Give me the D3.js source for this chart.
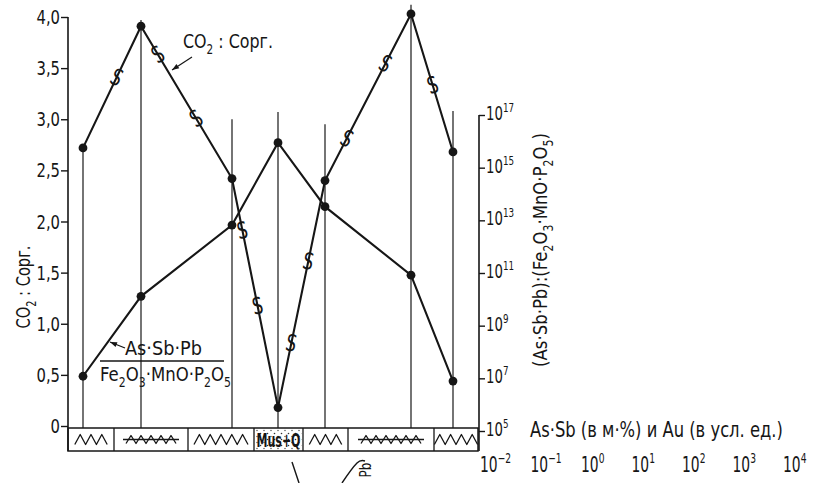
<!DOCTYPE html>
<html>
<head>
<meta charset="utf-8">
<script src="https://cdn.jsdelivr.net/npm/d3@7"></script>
<style>
  html, body { margin: 0; padding: 0; background: #fff; }
  svg text {
    font-family: "DejaVu Sans", "Liberation Sans", sans-serif;
    fill: #161616;
  }
</style>
</head>
<body>
<svg id="chart" width="813" height="483"></svg>
<script>
// Sample stations: distance along the section (arbitrary units)
const samplePos = [1.5, 7.3, 16.4, 21.0, 25.7, 34.3, 38.5];
// CO2 : C org ratio at each station
const co2Corg = [2.72, 3.91, 2.42, 0.18, 2.40, 4.03, 2.68];
// (As·Sb·Pb) : (Fe2O3·MnO·P2O5) at each station
const ratioAsSbPb = [1.2e7, 1.3e10, 6.6e12, 8.9e15, 3.3e13, 8.3e10, 7.9e6];
// Upper end of each station's sampling line, in CO2 : C org units
const stationTop = [2.72, 3.97, 3.0, 3.07, 2.95, 4.12, 3.08];

// Axis ticks
const leftTicks = [0, 0.5, 1.0, 1.5, 2.0, 2.5, 3.0, 3.5, 4.0];
const rightTickExp = [5, 7, 9, 11, 13, 15, 17];
const bottomTickExp = [-2, -1, 0, 1, 2, 3, 4];

// Lithology column: unit boundaries along the section and unit types
const lithoBounds = [0, 4.6, 12.0, 18.6, 23.5, 28.0, 36.6, 41.0];
const lithoUnits = [
  { kind: "schist", peaks: 3 },
  { kind: "banded", peaks: 5 },
  { kind: "schist", peaks: 5 },
  { kind: "musq", label: "Mus+Q" },
  { kind: "schist", peaks: 3 },
  { kind: "banded", peaks: 6 },
  { kind: "schist", peaks: 4 }
];

// "S" markers along the CO2 : C org curve: [segment index, fraction along segment]
const sMarks = [[0, 0.52], [1, 0.23], [1, 0.65], [2, 0.26], [2, 0.59],
                [3, 0.25], [3, 0.61], [4, 0.21], [4, 0.66], [5, 0.57]];

const ink = "#161616";
const svg = d3.select("#chart");

const x = d3.scaleLinear().domain([0, 41]).range([68, 478]);
const yL = d3.scaleLinear().domain([0, 4]).range([426, 17]);
const yR = d3.scaleLog().domain([1e5, 1e17]).range([431, 115]);
const xB = d3.scaleLog().domain([1e-2, 1e4]).range([480, 783]);

const stripTop = 428, stripBot = 451;

// Condensed label: text parts may be plain, "sub" or "sup".
// Either squeezed by a fixed factor k or fitted to a given width.
function label(parent, o) {
  const g = parent.append("g")
    .attr("transform", `translate(${o.x},${o.y}) rotate(${o.rot || 0})`);
  const inner = g.append("g");
  const t = inner.append("text").attr("font-size", o.size)
    .attr("text-anchor", o.anchor || "start");
  if (o.weight) t.attr("font-weight", o.weight);
  let shift = 0;
  o.parts.forEach(p => {
    const [txt, kind] = Array.isArray(p) ? p : [p];
    const small = kind === "sub" || kind === "sup";
    const target = kind === "sub" ? o.size * 0.28 : kind === "sup" ? -o.size * 0.42 : 0;
    const ts = t.append("tspan").attr("dy", target - shift).text(txt);
    if (small) ts.attr("font-size", o.size * 0.66);
    shift = target;
  });
  let k = o.k || 0.72;
  if (o.width) k = o.width / t.node().getBBox().width;
  inner.attr("transform", `scale(${k},1)`);
  return g;
}

// ---- sampling lines ----
svg.append("g").selectAll("line").data(samplePos).join("line")
  .attr("x1", d => x(d)).attr("x2", d => x(d))
  .attr("y1", (d, i) => yL(stationTop[i])).attr("y2", stripTop)
  .attr("stroke", "#2a2a2a").attr("stroke-width", 1.3);

// ---- left axis ----
const gL = svg.append("g").attr("transform", `translate(${x(0)},0)`)
  .call(d3.axisLeft(yL).tickValues(leftTicks).tickSize(7));
gL.select(".domain").remove();
gL.selectAll(".tick line").attr("stroke", ink).attr("stroke-width", 1.4);
gL.selectAll(".tick text").remove();
leftTicks.forEach(v => label(svg, {
  x: x(0) - 8, y: yL(v) + 7, size: 19, anchor: "end", k: 0.78,
  parts: [v === 0 ? "0" : v.toFixed(1).replace(".", ",")]
}));
svg.append("line").attr("x1", x(0)).attr("x2", x(0)).attr("y1", yL(4)).attr("y2", stripBot)
  .attr("stroke", ink).attr("stroke-width", 1.6);

// ---- right axis ----
const gR = svg.append("g").attr("transform", "translate(479,0)")
  .call(d3.axisRight(yR).tickValues(rightTickExp.map(e => Math.pow(10, e))).tickSize(6));
gR.select(".domain").remove();
gR.selectAll(".tick line").attr("stroke", ink).attr("stroke-width", 1.4);
gR.selectAll(".tick text").remove();
rightTickExp.forEach(e => label(svg, {
  x: 486, y: yR(Math.pow(10, e)) + 5, size: 19, k: 0.7,
  parts: ["10", [String(e), "sup"]]
}));
svg.append("line").attr("x1", 479).attr("x2", 479).attr("y1", yR(1e17)).attr("y2", stripBot)
  .attr("stroke", ink).attr("stroke-width", 1.6);

// ---- bottom logarithmic scale for As·Sb and Au ----
const gB = svg.append("g").attr("transform", "translate(0,458)")
  .call(d3.axisBottom(xB).tickValues(bottomTickExp.map(e => Math.pow(10, e))).tickSize(0));
gB.select(".domain").remove();
gB.selectAll(".tick text").remove();
bottomTickExp.forEach(e => label(svg, {
  x: xB(Math.pow(10, e)), y: 472, size: 21, k: 0.66,
  parts: ["10", [e < 0 ? "\u2212" + Math.abs(e) : String(e), "sup"]]
}));

label(svg, { x: 530, y: 437, size: 21, width: 253,
  parts: ["As·Sb (в м·%) и Au (в усл. ед.)"] });

// ---- lithology column ----
const strip = svg.append("g");
strip.append("rect").attr("x", x(0)).attr("y", stripTop)
  .attr("width", x(41) - x(0)).attr("height", stripBot - stripTop)
  .attr("fill", "none").attr("stroke", ink).attr("stroke-width", 1.5);
strip.selectAll("line.sep").data(lithoBounds.slice(1, -1)).join("line")
  .attr("class", "sep")
  .attr("x1", d => x(d)).attr("x2", d => x(d)).attr("y1", stripTop).attr("y2", stripBot)
  .attr("stroke", ink).attr("stroke-width", 1.3);

const defs = svg.append("defs");
const pat = defs.append("pattern").attr("id", "dots").attr("patternUnits", "userSpaceOnUse")
  .attr("width", 7).attr("height", 6);
pat.append("circle").attr("cx", 1.5).attr("cy", 1.5).attr("r", 0.8).attr("fill", "#333");
pat.append("circle").attr("cx", 5).attr("cy", 4.5).attr("r", 0.7).attr("fill", "#444");

const midY = (stripTop + stripBot) / 2;
lithoUnits.forEach((u, i) => {
  const x0 = x(lithoBounds[i]), x1 = x(lithoBounds[i + 1]);
  const cx = (x0 + x1) / 2;
  if (u.kind === "musq") {
    strip.append("rect").attr("x", x0 + 1).attr("y", stripTop + 1)
      .attr("width", x1 - x0 - 2).attr("height", stripBot - stripTop - 2)
      .attr("fill", "url(#dots)");
    label(strip, { x: cx, y: midY + 7, size: 19, anchor: "middle", width: 44,
      weight: "bold", parts: [u.label] });
    return;
  }
  const pw = u.kind === "banded" ? 10 : 10.8;
  const h = u.kind === "banded" ? 8 : 10;
  const w = u.peaks * pw;
  const sx = cx - w / 2;
  const pts = [];
  for (let k = 0; k <= u.peaks * 2; k++) {
    pts.push([sx + k * pw / 2, k % 2 ? midY - h / 2 : midY + h / 2]);
  }
  strip.append("path").attr("d", d3.line().curve(d3.curveLinear)(pts))
    .attr("fill", "none").attr("stroke", ink).attr("stroke-width", 1.3)
    .attr("stroke-linejoin", "round");
  if (u.kind === "banded") {
    strip.append("line").attr("x1", sx - 3).attr("x2", sx + w + 3)
      .attr("y1", midY).attr("y2", midY).attr("stroke", ink).attr("stroke-width", 1.3);
  }
});

// ---- data curves ----
const co2Pts = samplePos.map((p, i) => [x(p), yL(co2Corg[i])]);
const ratioPts = samplePos.map((p, i) => [x(p), yR(ratioAsSbPb[i])]);

svg.append("path").attr("d", d3.line()(ratioPts))
  .attr("fill", "none").attr("stroke", ink).attr("stroke-width", 2.1);
svg.append("path").attr("d", d3.line()(co2Pts))
  .attr("fill", "none").attr("stroke", ink).attr("stroke-width", 2.1);

svg.append("g").selectAll("circle").data(co2Pts.concat(ratioPts)).join("circle")
  .attr("cx", d => d[0]).attr("cy", d => d[1]).attr("r", 4.4).attr("fill", ink);

// S markers on the CO2 : C org curve
sMarks.forEach(([s, t]) => {
  const a = co2Pts[s], b = co2Pts[s + 1];
  const px = a[0] + (b[0] - a[0]) * t, py = a[1] + (b[1] - a[1]) * t;
  let ang = Math.atan2(b[0] - a[0], -(b[1] - a[1])) * 180 / Math.PI;
  if (ang > 90) ang -= 180;
  if (ang < -90) ang += 180;
  label(svg, { x: px, y: py, rot: ang, size: 23, anchor: "middle", k: 0.72,
    parts: [["S"]] }).select("text").attr("dy", "0.36em");
});

// ---- annotations ----
function arrow(x1, y1, x2, y2) {
  const g = svg.append("g");
  g.append("line").attr("x1", x1).attr("y1", y1).attr("x2", x2).attr("y2", y2)
    .attr("stroke", ink).attr("stroke-width", 1.2);
  const ang = Math.atan2(y2 - y1, x2 - x1);
  const L = 7, W = 2.6;
  const bx = x2 - L * Math.cos(ang), by = y2 - L * Math.sin(ang);
  g.append("path").attr("d",
    `M${x2},${y2}L${bx + W * Math.sin(ang)},${by - W * Math.cos(ang)}L${bx - W * Math.sin(ang)},${by + W * Math.cos(ang)}Z`)
    .attr("fill", ink);
}

label(svg, { x: 183, y: 48, size: 20, width: 90,
  parts: ["CO", ["2", "sub"], " : Сорг."] });
arrow(192, 57, 172, 70);

label(svg, { x: 125, y: 355, size: 19, width: 77, parts: ["As·Sb·Pb"] });
svg.append("line").attr("x1", 100).attr("x2", 224).attr("y1", 361).attr("y2", 361)
  .attr("stroke", ink).attr("stroke-width", 1.3);
label(svg, { x: 100, y: 381, size: 20, width: 131,
  parts: ["Fe", ["2", "sub"], "O", ["3", "sub"], "·MnO·P", ["2", "sub"], "O", ["5", "sub"]] });
arrow(125, 348, 110, 342);

// left axis title
label(svg, { x: 30, y: 287, rot: -90, size: 20, anchor: "middle", width: 83,
  parts: ["CO", ["2", "sub"], " : Сорг."] });

// right axis title
label(svg, { x: 547, y: 250, rot: -90, size: 20, anchor: "middle", width: 234,
  parts: ["(As·Sb·Pb):(Fe", ["2", "sub"], "O", ["3", "sub"], "·MnO·P", ["2", "sub"], "O", ["5", "sub"], ")"] });

// fragments of the adjoining panel below
svg.append("path").attr("d", "M292,462 L299,483")
  .attr("stroke", ink).attr("stroke-width", 1.4).attr("fill", "none");
svg.append("path").attr("d", "M342,483 C348,474 353,467 357,463 C359,461 362,460 365,461")
  .attr("stroke", ink).attr("stroke-width", 1.4).attr("fill", "none");
label(svg, { x: 371, y: 470, rot: -90, size: 15, anchor: "middle", k: 0.8, parts: ["Pb"] });
</script>
</body>
</html>
